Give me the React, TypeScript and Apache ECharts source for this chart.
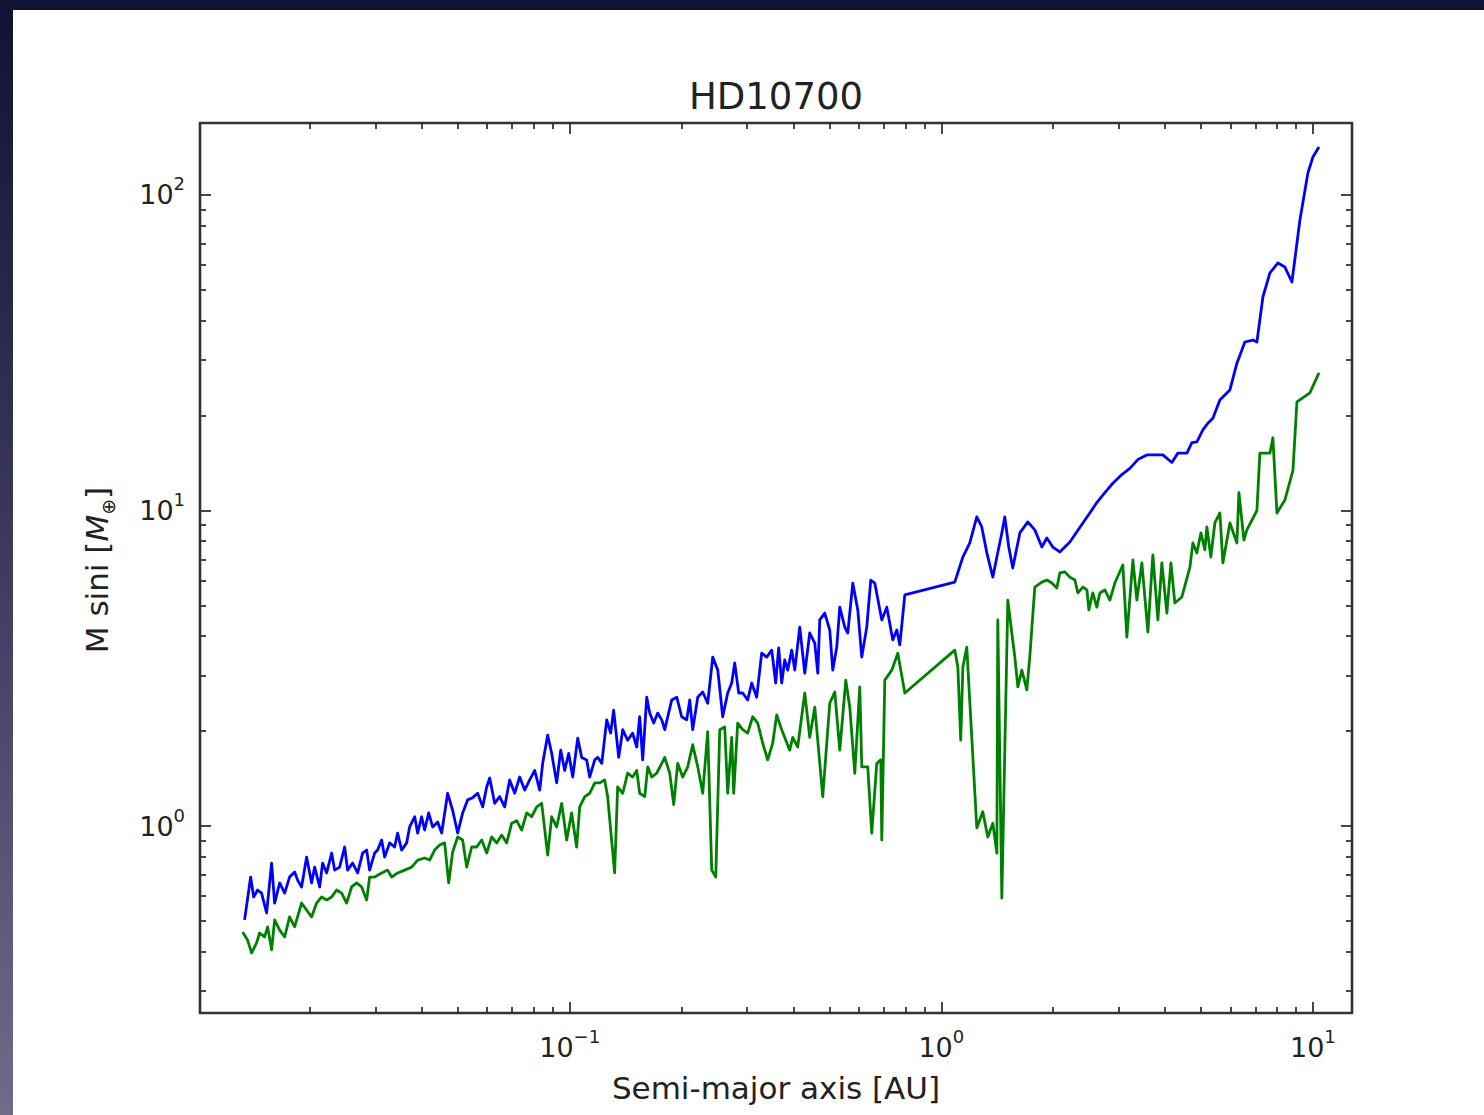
import { useEffect, useRef } from 'react';
import * as echarts from 'echarts';

// Minimum detectable planet mass (M sini, Earth masses) versus semi-major axis (AU)
const semiMajorBlue = [
  0.01334, 0.01385, 0.01411, 0.01446, 0.01482, 0.01529, 0.01577, 0.01607, 0.01658, 0.0171,
  0.01763, 0.01819, 0.01853, 0.01899, 0.01959, 0.02021, 0.02059, 0.02124, 0.02163, 0.02218,
  0.02288, 0.02331, 0.02404, 0.0248, 0.02526, 0.02605, 0.02688, 0.02772, 0.02842, 0.02895,
  0.02986, 0.03042, 0.03119, 0.03177, 0.03277, 0.0338, 0.03443, 0.0353, 0.03641, 0.03709,
  0.03827, 0.03898, 0.03995, 0.04071, 0.04173, 0.04278, 0.04413, 0.04524, 0.04695, 0.04843,
  0.04995, 0.05152, 0.05313, 0.05481, 0.05654, 0.05833, 0.05979, 0.06092, 0.06282, 0.0648,
  0.06683, 0.06894, 0.07112, 0.07335, 0.07567, 0.07804, 0.08051, 0.08305, 0.08459, 0.08726,
  0.08944, 0.09226, 0.09458, 0.09694, 0.09938,
  0.1019, 0.1051, 0.1077, 0.1111, 0.1132, 0.1168, 0.119, 0.122, 0.1258, 0.1289,
  0.1313, 0.1355, 0.1389, 0.1432, 0.1477, 0.1515, 0.1543, 0.1572, 0.1612, 0.1642,
  0.1683, 0.1725, 0.1769, 0.1802, 0.1836, 0.1882, 0.1941, 0.2002, 0.2065, 0.2104,
  0.2143, 0.2211, 0.228, 0.2352, 0.2426,
  0.2503, 0.2581, 0.2662, 0.2729, 0.278, 0.285, 0.2921, 0.3013, 0.3089, 0.3186,
  0.3286, 0.339, 0.3497, 0.3584, 0.3651, 0.372, 0.379, 0.3861, 0.3958, 0.4033,
  0.416, 0.4291, 0.4426, 0.4566, 0.4652, 0.4709, 0.4857, 0.501, 0.5104, 0.5232,
  0.5331, 0.5499, 0.5602, 0.5778, 0.596, 0.6109, 0.6301, 0.6459, 0.6622, 0.6916,
  0.7134, 0.7404, 0.759, 0.7733, 0.7977,
  1.087, 1.143, 1.193, 1.246, 1.285, 1.326, 1.376, 1.411, 1.455, 1.482,
  1.519, 1.557, 1.627, 1.709, 1.785, 1.865, 1.923, 1.996, 2.084, 2.218,
  2.404, 2.51, 2.621, 2.755, 2.895, 3.061, 3.217, 3.38, 3.574, 3.756,
  3.947, 4.173, 4.331, 4.58, 4.724, 4.872, 5.057, 5.215, 5.38, 5.619,
  5.979, 6.244, 6.561, 6.894, 7.068, 7.335, 7.661, 8.051, 8.407, 8.78,
  9.226, 9.694, 10.0, 10.38,
];
const massBlue = [
  0.504, 0.689, 0.596, 0.627, 0.613, 0.53, 0.763, 0.57, 0.66, 0.613,
  0.689, 0.715, 0.674, 0.641, 0.797, 0.66, 0.741, 0.641, 0.763, 0.71,
  0.821, 0.725, 0.741, 0.858, 0.725, 0.763, 0.71, 0.821, 0.839, 0.725,
  0.821, 0.839, 0.903, 0.797, 0.884, 0.858, 0.95, 0.839, 0.884, 0.993,
  1.07, 0.95, 1.07, 0.971, 1.1, 0.993, 1.03, 0.95, 1.27, 1.12,
  0.95, 1.1, 1.21, 1.23, 1.27, 1.15, 1.33, 1.42, 1.18, 1.24,
  1.15, 1.4, 1.27, 1.43, 1.3, 1.4, 1.5, 1.3, 1.58, 1.94,
  1.7, 1.37, 1.74, 1.5, 1.7,
  1.43, 1.9, 1.65, 1.62, 1.43, 1.62, 1.65, 1.58, 2.17, 1.97,
  2.33, 1.65, 2.02, 1.87, 1.97, 1.78, 2.22, 1.62, 2.56, 2.28,
  2.12, 2.28, 2.17, 2.02, 2.22, 2.51, 2.56, 2.22, 2.17, 2.51,
  2.02, 2.56, 2.66, 2.45, 3.43,
  3.12, 2.22, 2.64, 2.84, 3.29, 2.64, 2.64, 2.51, 2.84, 2.56,
  3.53, 3.43, 3.61, 2.84, 3.67, 2.84, 3.36, 3.12, 3.61, 3.12,
  4.27, 3.05, 4.09, 3.8, 3.05, 4.5, 4.73, 4.18, 3.12, 3.69,
  4.94, 4.27, 4.09, 5.89, 4.84, 3.43, 4.27, 6.02, 5.89, 4.5,
  4.94, 3.89, 4.18, 3.75, 5.4,
  5.93, 7.12, 7.89, 9.54, 8.87, 7.34, 6.15, 7.12, 8.49, 9.54,
  7.66, 6.57, 8.49, 9.2, 8.68, 7.66, 8.18, 7.66, 7.39, 7.95,
  9.13, 9.82, 10.6, 11.4, 12.2, 13.0, 13.6, 14.5, 15.0, 15.0,
  15.0, 14.2, 15.2, 15.2, 16.4, 16.5, 18.0, 18.9, 19.6, 22.4,
  24.1, 29.3, 34.2, 34.7, 34.2, 47.5, 56.6, 60.9, 59.1, 53.0,
  83.3, 117.4, 131.9, 141.9,
];

const semiMajorGreen = [
  0.01318, 0.01359, 0.01393, 0.01437, 0.01464, 0.0151, 0.01539, 0.01577, 0.01607, 0.01658,
  0.0171, 0.01763, 0.01819, 0.01899, 0.01959, 0.02021, 0.02084, 0.0215, 0.02218, 0.02288,
  0.0236, 0.02434, 0.0251, 0.02589, 0.02671, 0.02755, 0.02842, 0.02895, 0.02986, 0.03119,
  0.03237, 0.03318, 0.03443, 0.03597, 0.03756, 0.03898, 0.04071,
  0.04199, 0.04331, 0.04468, 0.04608, 0.04724, 0.04843, 0.04995, 0.05152, 0.05282, 0.05447,
  0.05619, 0.05797, 0.05979, 0.06166, 0.06361, 0.06561, 0.06767, 0.06981, 0.07199, 0.07427,
  0.07661, 0.07902, 0.08152, 0.08407, 0.08726, 0.08944, 0.09226, 0.09517, 0.09815, 0.1012,
  0.1044, 0.1064, 0.1098, 0.1132, 0.1168, 0.1205, 0.1242,
  0.1265, 0.1321, 0.1346, 0.1389, 0.1432, 0.1477, 0.1515, 0.1543, 0.1592, 0.1622,
  0.1662, 0.1715, 0.1769, 0.1802, 0.1859, 0.1905, 0.1953, 0.2014, 0.2078, 0.2143,
  0.2211, 0.228, 0.2352, 0.2411, 0.2472, 0.2534, 0.2613, 0.2662, 0.2729, 0.2763,
  0.2832, 0.2921, 0.3013, 0.3108, 0.3206, 0.3307, 0.3411, 0.3518, 0.3606, 0.372,
  0.3909, 0.3983, 0.4108, 0.4291, 0.4426, 0.4566, 0.4797, 0.501, 0.5168, 0.5331,
  0.5533, 0.5672, 0.585, 0.6034, 0.6109, 0.634, 0.6499, 0.6705, 0.6873, 0.6916,
  0.7046, 0.7359, 0.7637, 0.7977,
  1.087, 1.108, 1.128, 1.143, 1.171, 1.246, 1.293, 1.334, 1.376, 1.411,
  1.419, 1.455, 1.51, 1.548, 1.577, 1.607, 1.647, 1.699, 1.73, 1.785,
  1.865, 1.923, 1.984, 2.046, 2.084, 2.15, 2.218, 2.288, 2.331, 2.404,
  2.465, 2.495, 2.557, 2.621, 2.671,
  2.755, 2.842, 2.931, 3.08, 3.157, 3.277, 3.359, 3.465, 3.597, 3.709,
  3.827, 3.922, 4.046, 4.148, 4.251, 4.44, 4.667, 4.753, 4.872, 4.995,
  5.12, 5.183, 5.313, 5.447, 5.619, 5.724, 5.979, 6.244, 6.322, 6.521,
  6.642, 7.068, 7.199, 7.661, 7.804, 8.001, 8.407, 8.836, 9.056, 9.815,
  10.38,
];
const massGreen = [
  0.461, 0.435, 0.396, 0.426, 0.458, 0.445, 0.479, 0.405, 0.504, 0.468,
  0.445, 0.515, 0.479, 0.57, 0.542, 0.515, 0.57, 0.596, 0.583, 0.596,
  0.627, 0.613, 0.57, 0.641, 0.66, 0.641, 0.583, 0.689, 0.689, 0.71,
  0.725, 0.689, 0.71, 0.725, 0.741, 0.78, 0.792,
  0.78, 0.839, 0.871, 0.884, 0.66, 0.827, 0.923, 0.903, 0.741, 0.858,
  0.858, 0.903, 0.821, 0.923, 0.884, 0.936, 0.884, 1.02, 1.04, 0.971,
  1.1, 1.07, 1.15, 1.18, 0.809, 1.07, 0.993, 1.18, 0.903, 1.1,
  0.858, 1.15, 1.24, 1.27, 1.37, 1.37, 1.4,
  1.24, 0.71, 1.33, 1.27, 1.47, 1.43, 1.5, 1.27, 1.24, 1.54,
  1.43, 1.47, 1.58, 1.65, 1.47, 1.17, 1.58, 1.43, 1.54, 1.81,
  1.54, 1.27, 1.99, 0.725, 0.689, 2.02, 2.06, 1.27, 1.91, 1.27,
  2.12, 2.02, 1.97, 2.22, 2.12, 1.83, 1.62, 1.83, 2.25, 2.02,
  1.74, 1.91, 1.78, 2.64, 1.91, 2.38, 1.24, 2.45, 2.66, 1.74,
  2.9, 2.38, 1.47, 2.76, 1.54, 1.54, 0.95, 1.58, 1.62, 0.903,
  2.9, 3.12, 3.53, 2.64,
  3.61, 3.19, 1.87, 3.19, 3.69, 0.986, 1.11, 0.923, 1.02, 0.821,
  4.5, 0.591, 5.2, 4.09, 3.43, 2.76, 3.12, 2.7, 3.43, 5.72,
  5.93, 6.02, 5.89, 5.68, 6.34, 6.39, 6.15, 6.02, 5.48, 5.72,
  5.6, 4.84, 5.48, 4.94, 5.48,
  5.6, 5.2, 5.89, 6.72, 3.97, 6.97, 5.2, 6.82, 4.12, 7.23,
  4.5, 6.82, 4.73, 6.82, 5.09, 5.32, 6.62, 7.89, 7.34, 8.49,
  7.5, 8.87, 7.12, 9.13, 9.82, 6.82, 9.13, 7.89, 11.4, 8.06,
  8.68, 10.0, 15.2, 15.2, 17.0, 9.82, 10.8, 13.4, 22.1, 23.6,
  27.3,
];

// Axis limits (data units) and log-axis tick positions
const xLimits = [0.01012, 12.74];
const yLimits = [0.2555, 169.1];
const xMajorTicks = [0.1, 1, 10];
const xMinorTicks = [
  0.02, 0.03, 0.04, 0.05, 0.06, 0.07, 0.08, 0.09,
  0.2, 0.3, 0.4, 0.5, 0.6, 0.7, 0.8, 0.9,
  2, 3, 4, 5, 6, 7, 8, 9,
];
const yMajorTicks = [1, 10, 100];
const yMinorTicks = [
  0.3, 0.4, 0.5, 0.6, 0.7, 0.8, 0.9,
  2, 3, 4, 5, 6, 7, 8, 9,
  20, 30, 40, 50, 60, 70, 80, 90,
];

const FONT = '"DejaVu Sans", "Bitstream Vera Sans", sans-serif';
const INK = '#222222';
const FRAME = '#333333';

const lg = (v: number) => Math.log10(v);

function powerLabel(v: number) {
  const e = Math.round(v);
  const exp = e < 0 ? '\u2212' + Math.abs(e) : String(e);
  return `{b|10}{s|${exp}}`;
}

const labelRich = {
  b: { fontFamily: FONT, fontSize: 27, color: INK, lineHeight: 40 },
  s: { fontFamily: FONT, fontSize: 18, color: INK, lineHeight: 18, verticalAlign: 'top' },
};

function makeAxis(
  position: string,
  limits: number[],
  ticks: number[],
  length: number,
  labels?: number[],
  margin?: number,
) {
  return {
    type: 'value',
    position,
    min: lg(limits[0]),
    max: lg(limits[1]),
    axisLine: { show: false, onZero: false },
    splitLine: { show: false },
    axisTick: {
      show: true,
      inside: true,
      length,
      customValues: ticks.map(lg),
      lineStyle: { color: FRAME, width: 1.8 },
    },
    axisLabel: labels
      ? {
          show: true,
          customValues: labels.map(lg),
          formatter: powerLabel,
          rich: labelRich,
          margin,
        }
      : { show: false },
  };
}

export default function App() {
  const ref = useRef<HTMLDivElement>(null);

  useEffect(() => {
    if (!ref.current) return;
    const chart = echarts.init(ref.current, undefined, { renderer: 'svg' });

    const option: any = {
      animation: false,
      backgroundColor: 'transparent',
      grid: {
        left: 200,
        top: 123,
        width: 1152,
        height: 890,
        show: true,
        borderColor: FRAME,
        borderWidth: 2.6,
        backgroundColor: 'transparent',
        containLabel: false,
        outerBoundsMode: 'none',
      },
      xAxis: [
        makeAxis('bottom', xLimits, xMajorTicks, 11, xMajorTicks, 14),
        makeAxis('bottom', xLimits, xMinorTicks, 6),
        makeAxis('top', xLimits, xMajorTicks, 11),
        makeAxis('top', xLimits, xMinorTicks, 6),
      ],
      yAxis: [
        makeAxis('left', yLimits, yMajorTicks, 11, yMajorTicks, 15),
        makeAxis('left', yLimits, yMinorTicks, 6),
        makeAxis('right', yLimits, yMajorTicks, 11),
        makeAxis('right', yLimits, yMinorTicks, 6),
      ],
      series: [
        {
          type: 'line',
          name: 'blue',
          xAxisIndex: 0,
          yAxisIndex: 0,
          data: semiMajorBlue.map((a, i) => [lg(a), lg(massBlue[i])]),
          showSymbol: false,
          symbol: 'none',
          silent: true,
          lineStyle: { color: '#0000ff', width: 2.8, join: 'round' },
        },
        {
          type: 'line',
          name: 'green',
          xAxisIndex: 0,
          yAxisIndex: 0,
          data: semiMajorGreen.map((a, i) => [lg(a), lg(massGreen[i])]),
          showSymbol: false,
          symbol: 'none',
          silent: true,
          lineStyle: { color: '#008000', width: 2.8, join: 'round' },
        },
      ],
      graphic: [
        {
          type: 'text',
          x: 776,
          y: 96,
          style: {
            text: 'HD10700',
            fontFamily: FONT,
            fontSize: 37,
            fill: INK,
            align: 'center',
            verticalAlign: 'middle',
            textAlign: 'center',
            textVerticalAlign: 'middle',
          },
        },
        {
          type: 'text',
          x: 776,
          y: 1088,
          style: {
            text: 'Semi-major axis [AU]',
            fontFamily: FONT,
            fontSize: 31,
            fill: INK,
            align: 'center',
            verticalAlign: 'middle',
            textAlign: 'center',
            textVerticalAlign: 'middle',
          },
        },
        {
          type: 'text',
          x: 97,
          y: 570,
          rotation: Math.PI / 2,
          style: {
            text: '{n|M sini [}{m|M}{o|\u2295}{n|]}',
            align: 'center',
            verticalAlign: 'middle',
            textAlign: 'center',
            textVerticalAlign: 'middle',
            rich: {
              n: { fontFamily: FONT, fontSize: 31, fill: INK, lineHeight: 40 },
              m: { fontFamily: FONT, fontSize: 31, fontStyle: 'italic', fill: INK, lineHeight: 40 },
              o: { fontFamily: FONT, fontSize: 19, fill: INK, lineHeight: 24, verticalAlign: 'bottom' },
            },
          },
        },
      ],
    };

    chart.setOption(option);
    return () => chart.dispose();
  }, []);

  return (
    <div
      style={{
        position: 'fixed',
        left: 0,
        top: 0,
        width: 1484,
        height: 1115,
        background: 'linear-gradient(to bottom, #111134 0%, #3c3b5e 50%, #6e6c87 100%)',
      }}
    >
      <div
        style={{
          position: 'absolute',
          left: 13,
          top: 10,
          width: 1471,
          height: 1105,
          background: '#ffffff',
        }}
      />
      <div ref={ref} style={{ position: 'absolute', left: 0, top: 0, width: 1484, height: 1115 }} />
    </div>
  );
}
